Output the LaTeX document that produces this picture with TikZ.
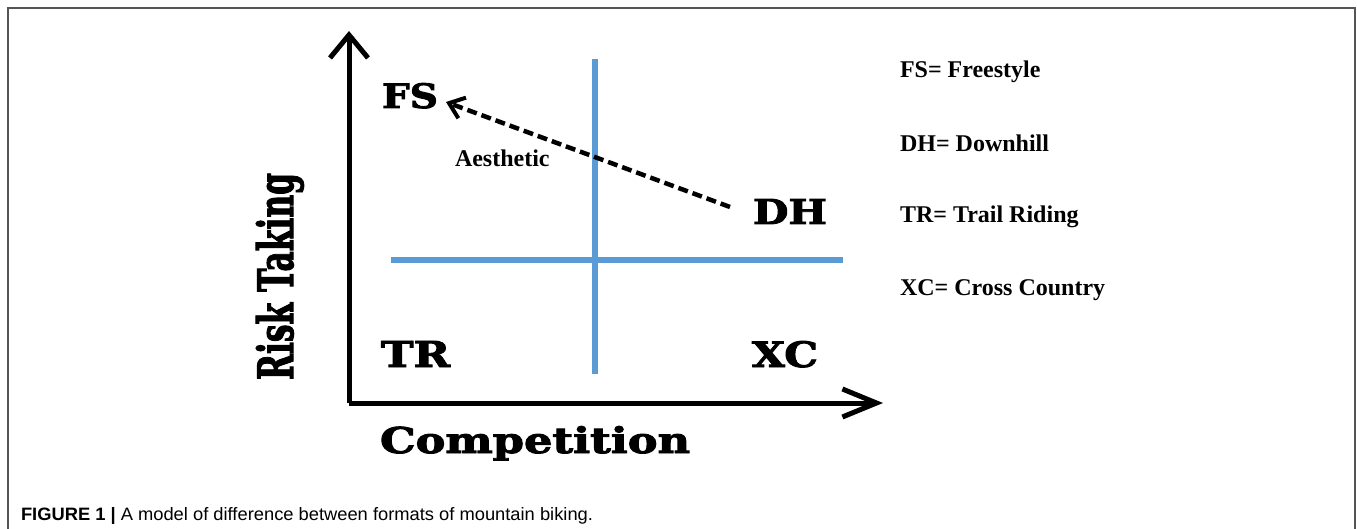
\documentclass[tikz,border=0pt]{standalone}
\usepackage{fontspec}
\setmainfont{Liberation Serif}
\newfontfamily\chartfont{DejaVu Serif}[BoldFont={DejaVu Serif Bold}, BoldFeatures={FakeBold=2.5}]
\newfontfamily\capfont{Liberation Sans}
\usetikzlibrary{arrows.meta}
\definecolor{quadblue}{HTML}{5B9BD5}
\definecolor{framegray}{HTML}{555555}
\tikzset{
  lbl/.style={inner sep=0pt, outer sep=0pt, anchor=base west},
  legend/.style={inner sep=0pt, outer sep=0pt, anchor=base west, font=\fontsize{24}{28}\selectfont\bfseries},
  axisline/.style={line width=5pt, black, line join=miter},
  quadline/.style={line width=5.5pt, quadblue},
  dasharrow/.style={line width=4.5pt, black, dash pattern=on 10pt off 5pt,
     -{Straight Barb[length=14pt,width=22pt,line width=4pt]}},
}
\begin{document}
\begin{tikzpicture}[x=1pt,y=-1pt]
\useasboundingbox (0,0) rectangle (1357,529);
% frame
\draw[framegray, line width=2pt] (8,529) -- (8,8.5) -- (1355,8.5) -- (1355,529);
% quadrant lines
\coordinate (vtop) at (595,59);
\coordinate (vbot) at (595,374);
\coordinate (hleft) at (391,260);
\coordinate (hright) at (843,260);
\draw[quadline] (vtop) -- (vbot);
\draw[quadline] (hleft) -- (hright);
% axes
\coordinate (origin) at (349,403);
\coordinate (ytip) at (349,31);
\coordinate (xtip) at (883,403);
\draw[axisline, -{Straight Barb[length=23pt,width=38pt,line width=5pt]}] (origin) -- (ytip);
\draw[axisline, -{Straight Barb[length=34pt,width=28pt,line width=5pt]}] (origin) -- (xtip);
% quadrant labels
\node[lbl] (fs) at (382,108) {\chartfont\bfseries\resizebox{56pt}{25pt}{FS}};
\node[lbl] (dh) at (753,224) {\chartfont\bfseries\resizebox{74pt}{25pt}{DH}};
\node[lbl] (tr) at (381,367) {\chartfont\bfseries\resizebox{69pt}{26pt}{TR}};
\node[lbl] (xc) at (752,367) {\chartfont\bfseries\resizebox{66pt}{26pt}{XC}};
% axis titles
\node[lbl] (comp) at (380,453) {\chartfont\bfseries\resizebox{310pt}{27pt}{Competition}};
\node[lbl, rotate=90] (risk) at (293,380) {\chartfont\bfseries\resizebox{207pt}{37pt}{Risk Taking}};
% aesthetic arrow
\node[legend] (aes) at (455,167) {Aesthetic};
\coordinate (arrstart) at (730,207);
\coordinate (arrend) at (446,102);
\draw[dasharrow] (arrstart) -- (arrend);
% legend
\node[legend] (lfs) at (900,78) {FS= Freestyle};
\node[legend] (ldh) at (900,152) {DH= Downhill};
\node[legend] (ltr) at (900,223) {TR= Trail Riding};
\node[legend] (lxc) at (900,295) {XC= Cross Country};
% caption
\node[lbl] (cap) at (21,520) {\capfont\resizebox{572pt}{13pt}{\fontsize{18}{20}\selectfont\textbf{FIGURE 1 |} A model of difference between formats of mountain biking.}};
\end{tikzpicture}
\end{document}
